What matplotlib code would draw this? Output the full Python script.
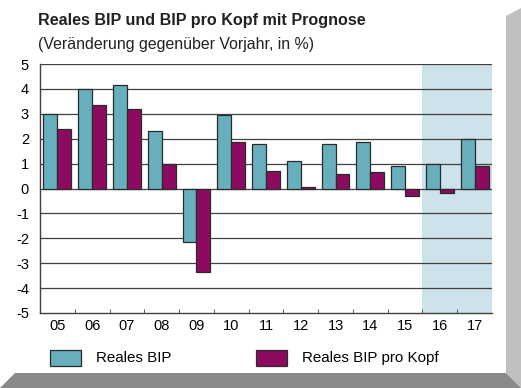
import numpy as np
import matplotlib.pyplot as plt
from matplotlib.patches import Polygon, Rectangle

plt.rcParams['font.family'] = ['Liberation Sans', 'DejaVu Sans']

# data
years = ['05', '06', '07', '08', '09', '10', '11', '12', '13', '14', '15', '16', '17']
bip = [3.0, 4.0, 4.15, 2.3, -2.15, 2.95, 1.8, 1.1, 1.8, 1.85, 0.9, 1.0, 2.0]
bip_kopf = [2.4, 3.35, 3.2, 1.0, -3.35, 1.85, 0.7, 0.05, 0.6, 0.65, -0.3, -0.2, 0.9]
forecast_from = '16'

c_bip = '#68afbe'
c_kopf = '#8c0a60'
c_shade = '#cde2ea'

fig = plt.figure(figsize=(5.21, 3.88), dpi=100)
fig.patch.set_facecolor('white')

# grey frame (3d look)
W, H = 521, 388
def fx(px): return px / W
def fy(py): return 1 - py / H
fig.patches.append(Polygon([(fx(506), fy(16)), (fx(521), fy(8)), (fx(521), fy(388)), (fx(506), fy(373))],
                           closed=True, transform=fig.transFigure, facecolor='#c0c0c0', edgecolor='none'))
fig.patches.append(Polygon([(fx(15), fy(373)), (fx(506), fy(373)), (fx(521), fy(388)), (fx(0), fy(388))],
                           closed=True, transform=fig.transFigure, facecolor='#8a8a8a', edgecolor='none'))

ax = fig.add_axes([fx(40), fy(313), fx(492) - fx(40), fy(64) - fy(313)])
x = np.arange(len(years))
w = 0.4

i0 = years.index(forecast_from)
ax.axvspan(i0 - 0.5, len(years) - 0.5, color=c_shade, zorder=0, lw=0)

for v in range(-4, 6):
    ax.axhline(v, color='#404040', lw=0.9, zorder=1)

ax.bar(x - w / 2, bip, w, color=c_bip, edgecolor='#2a2a2a', lw=0.9, zorder=3)
ax.bar(x + w / 2, bip_kopf, w, color=c_kopf, edgecolor='#2a2a2a', lw=0.9, zorder=3)

ax.set_xlim(-0.5, len(years) - 0.5)
ax.set_ylim(-5, 5)
ax.set_yticks(range(-5, 6))
ax.set_yticklabels([str(v) for v in range(-5, 6)], fontsize=10.5)
ax.tick_params(axis='y', length=0, pad=8)
ax.set_xticks(x)
ax.set_xticklabels(years, fontsize=10.5)
ax.set_xticks(np.arange(0.5, len(years) - 1, 1), minor=True)
ax.tick_params(axis='x', which='major', length=0, pad=4)
ax.tick_params(axis='x', which='minor', direction='in', length=3, color='#404040')
for s in ['top', 'right']:
    ax.spines[s].set_visible(False)
for s in ['left', 'bottom']:
    ax.spines[s].set_color('#404040')
    ax.spines[s].set_linewidth(1.0)

fig.text(fx(38), fy(21), 'Reales BIP und BIP pro Kopf mit Prognose', fontsize=11.6,
         fontweight='bold', color='#222222', va='center')
fig.text(fx(38), fy(45), '(Veränderung gegenüber Vorjahr, in %)', fontsize=11.4,
         color='#222222', va='center')

# legend
fig.patches.append(Rectangle((fx(50), fy(366)), fx(81) - fx(50), fy(350) - fy(366),
                             transform=fig.transFigure, facecolor=c_bip, edgecolor='#2a2a2a', lw=0.9))
fig.text(fx(96), fy(358), 'Reales BIP', fontsize=10.9, va='center')
fig.patches.append(Rectangle((fx(256), fy(366)), fx(287) - fx(256), fy(350) - fy(366),
                             transform=fig.transFigure, facecolor=c_kopf, edgecolor='#2a2a2a', lw=0.9))
fig.text(fx(302), fy(358), 'Reales BIP pro Kopf', fontsize=10.9, va='center')

fig.savefig('out.png', dpi=100)
